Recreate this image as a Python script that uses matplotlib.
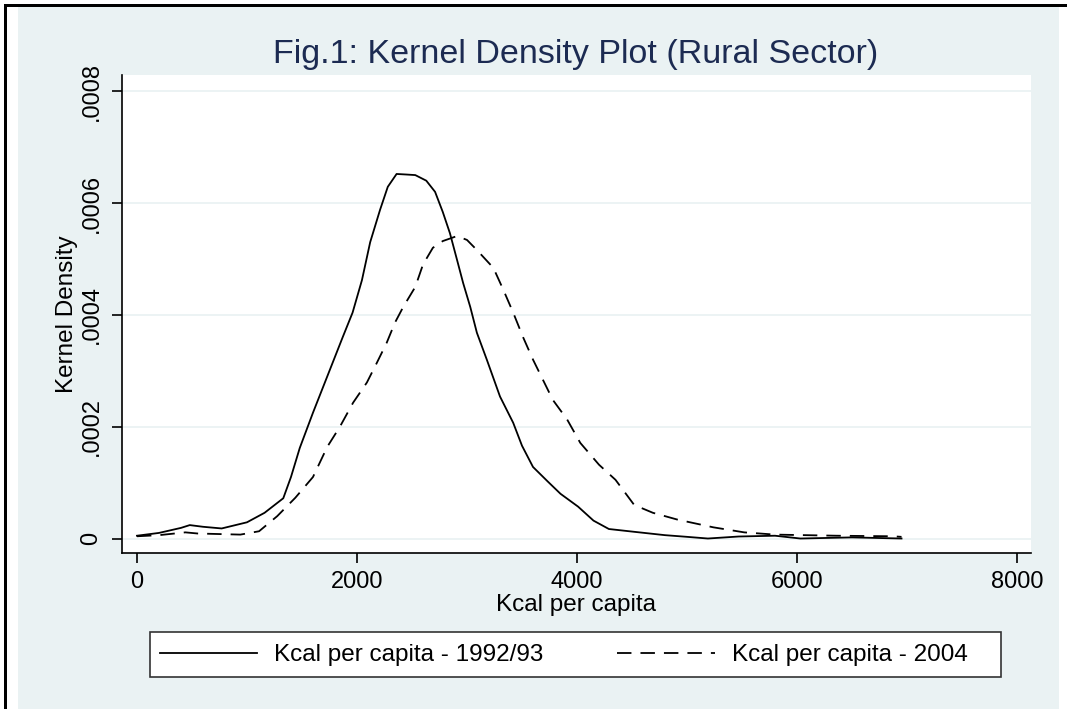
import matplotlib
matplotlib.use("Agg")
import matplotlib.pyplot as plt
from matplotlib.patches import Rectangle

plt.rcParams['font.family'] = ['Liberation Sans', 'DejaVu Sans']

# ---- data ----
kcal_1992 = [0, 200, 400, 480, 600, 770, 1000, 1160, 1330, 1400, 1480, 1600, 1730, 1870,
             1960, 2045, 2120, 2210, 2280, 2360, 2450, 2530, 2630, 2710, 2780, 2845,
             2910, 2965, 3030, 3090, 3180, 3300, 3420, 3500, 3600, 3734, 3850, 4010,
             4150, 4290, 4520, 4800, 5000, 5190, 5470, 5800, 6030, 6500, 6950]
dens_1992 = [0.05, 0.10, 0.19, 0.24, 0.21, 0.18, 0.29, 0.46, 0.72, 1.10, 1.62, 2.25,
             2.90, 3.60, 4.04, 4.62, 5.30, 5.88, 6.29, 6.52, 6.51, 6.50, 6.40, 6.20,
             5.84, 5.46, 4.98, 4.57, 4.14, 3.68, 3.20, 2.54, 2.07, 1.66, 1.28, 1.02,
             0.80, 0.57, 0.32, 0.17, 0.12, 0.06, 0.03, 0.0, 0.036, 0.05, 0.0, 0.02, 0.0]

kcal_2004 = [0, 200, 440, 550, 940, 1110, 1275, 1440, 1600, 1730, 1845, 1965, 2090,
             2180, 2270, 2345, 2420, 2530, 2600, 2690, 2780, 2910, 3000, 3090, 3240,
             3330, 3420, 3510, 3600, 3690, 3780, 3910, 4030, 4200, 4350, 4520, 4690,
             4910, 5240, 5520, 5800, 6360, 6870, 6950]
dens_2004 = [0.04, 0.06, 0.11, 0.09, 0.07, 0.13, 0.40, 0.73, 1.10, 1.64, 2.00, 2.43,
             2.79, 3.14, 3.50, 3.86, 4.14, 4.50, 4.90, 5.20, 5.32, 5.41, 5.34, 5.16,
             4.84, 4.45, 4.04, 3.60, 3.20, 2.84, 2.48, 2.13, 1.71, 1.32, 1.05, 0.60,
             0.46, 0.34, 0.20, 0.11, 0.07, 0.05, 0.04, 0.03]

x_ticks = [0, 2000, 4000, 6000, 8000]
x_tick_labels = ['0', '2000', '4000', '6000', '8000']
y_ticks = [0, 0.0002, 0.0004, 0.0006, 0.0008]
y_tick_labels = ['0', '.0002', '.0004', '.0006', '.0008']

label_1992 = 'Kcal per capita - 1992/93'
label_2004 = 'Kcal per capita - 2004'

# ---- figure ----
W, H = 1067, 709
fig = plt.figure(figsize=(W / 100, H / 100), dpi=100)
fig.patch.set_facecolor('white')

def px(x0, y0, w, h, **kw):
    # rectangle in pixel coordinates (origin top-left)
    return Rectangle((x0 / W, 1 - (y0 + h) / H), w / W, h / H,
                     transform=fig.transFigure, **kw)

bg = '#EAF2F3'
fig.patches.append(px(18, 7, 1041, 710, facecolor=bg, edgecolor='none', zorder=-10))
fig.patches.append(px(4, 4, 1070, 3, facecolor='black', edgecolor='none', zorder=-9))
fig.patches.append(px(4, 4, 3, 710, facecolor='black', edgecolor='none', zorder=-9))
# legend box
fig.patches.append(px(150, 632, 851, 45, facecolor='white', edgecolor='#333333',
                      lw=1.2, zorder=-8))

ax = fig.add_axes([122 / W, 1 - 553 / H, (1031 - 122) / W, (553 - 75) / H])
ax.set_zorder(1)
ax.set_facecolor('white')

scale = 1e-4
ax.plot(kcal_1992, [d * scale for d in dens_1992], color='black', lw=1.3,
        label=label_1992)
ax.plot(kcal_2004, [d * scale for d in dens_2004], color='black', lw=1.3,
        dashes=(8, 5), label=label_2004)

ax.set_xlim(-136, 8127)
ax.set_ylim(-0.0000259, 0.000829)

ax.set_xticks(x_ticks)
ax.set_xticklabels(x_tick_labels, fontsize=17)
ax.set_yticks(y_ticks)
ax.set_yticklabels(y_tick_labels, fontsize=17, rotation=90, va='center')
ax.tick_params(axis='both', direction='out', length=7, width=1.2, color='black')
ax.tick_params(axis='x', pad=6)
ax.tick_params(axis='y', pad=7)
ax.yaxis.grid(True, color=bg, lw=1.3)
ax.set_axisbelow(True)
for s in ['top', 'right']:
    ax.spines[s].set_visible(False)
for s in ['left', 'bottom']:
    ax.spines[s].set_linewidth(1.2)

ax.set_xlabel('Kcal per capita', fontsize=17.5, labelpad=1)
ax.set_ylabel('Kernel Density', fontsize=17.5, labelpad=2)

fig.text(576 / W, 1 - 55 / H, 'Fig.1: Kernel Density Plot (Rural Sector)',
         fontsize=24.5, color='#1C2B52', ha='center', va='center')

leg = fig.legend(loc='center left', bbox_to_anchor=(150 / W, 1 - 655 / H), ncol=2,
                 fontsize=17.5, frameon=False,
                 handlelength=4.0, handletextpad=0.7, columnspacing=3.05,
                 borderpad=0.4, borderaxespad=0.0)

fig.savefig('out.png', dpi=100, facecolor=fig.get_facecolor())
